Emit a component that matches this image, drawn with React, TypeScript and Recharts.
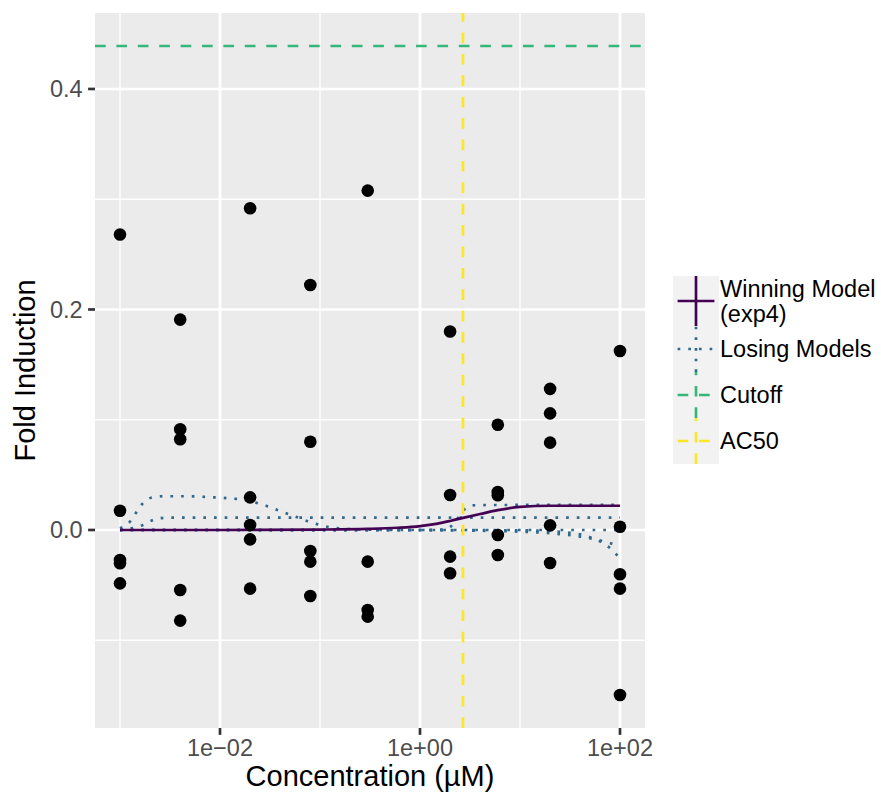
import React from 'react';
import {
  ComposedChart,
  Scatter,
  Line,
  XAxis,
  YAxis,
  ReferenceLine,
  CartesianGrid,
  Legend,
} from 'recharts';

// ---------- data ----------
const concentrations = [0.001, 0.004, 0.02, 0.08, 0.3, 2, 6, 20, 100];
const responses = [
  [0.268, 0.0175, -0.0272, -0.0302, -0.0484],
  [0.1908, 0.0913, 0.0823, -0.0544, -0.0822],
  [0.2918, 0.0296, 0.0045, -0.0085, -0.0532],
  [0.2222, 0.08, -0.019, -0.0287, -0.0599],
  [0.3078, -0.0287, -0.0726, -0.0786],
  [0.18, 0.0317, -0.0242, -0.0393],
  [0.0955, 0.0345, 0.0315, -0.0045, -0.0227],
  [0.128, 0.1058, 0.0792, 0.0042, -0.03],
  [0.1624, 0.003, -0.0402, -0.0532, -0.1497],
];

const winningX = [0.001, 0.01, 0.1, 0.3, 0.6, 1, 1.5, 2, 2.7, 4, 6, 10, 20, 40, 100];
const winningY = [0, 0, 0.0004, 0.001, 0.002, 0.0035, 0.0058, 0.0082, 0.011, 0.0145, 0.018, 0.021, 0.022, 0.022, 0.022];

const loseAX = [0.001, 0.00128, 0.00147, 0.00171, 0.00215, 0.0028, 0.0047, 0.0081, 0.0136, 0.0178, 0.0228, 0.0293, 0.0374, 0.0481, 0.0605, 0.0778, 0.1, 0.128, 0.167, 0.3, 1, 10, 100];
const loseAY = [0.0015, 0.0084, 0.0166, 0.0248, 0.0297, 0.0306, 0.0306, 0.0297, 0.0284, 0.0272, 0.0248, 0.0218, 0.0181, 0.0145, 0.0112, 0.0075, 0.0045, 0.0024, 0.0012, 0.0003, 0, 0, 0];

const loseBX = [0.001, 0.0013, 0.0017, 0.0022, 0.003, 0.01, 1, 100];
const loseBY = [0, 0.0015, 0.0045, 0.0095, 0.0112, 0.0112, 0.0112, 0.0112];

const loseCX = [0.001, 1, 10, 20, 30, 40, 50, 60, 70, 80, 90, 100];
const loseCY = [0, 0, -0.0003, -0.001, -0.0023, -0.004, -0.0065, -0.0094, -0.0128, -0.0167, -0.0212, -0.026];

const loseDX = [0.001, 1, 1.8, 2.06, 2.4, 2.86, 3.3, 4, 10, 100];
const loseDY = [0, 0, 0.0005, 0.0036, 0.011, 0.0197, 0.0222, 0.0226, 0.0227, 0.0227];

const loseEX = [0.001, 1, 10, 20, 40, 60, 80, 100];
const loseEY = [0, -0.0002, -0.0015, -0.003, -0.006, -0.009, -0.012, -0.015];

const cutoffValue = 0.439;
const ac50Value = 2.69;

const xTicks = [0.01, 1, 100];
const xTickLabels = ['1e\u221202', '1e+00', '1e+02'];
const xMinor = [0.001, 0.1, 10];
const yTicks = [0, 0.2, 0.4];
const yTickLabels = ['0.0', '0.2', '0.4'];
const yMinor = [-0.1, 0.1, 0.3];

const legendLabels = [['Winning Model', '(exp4)'], ['Losing Models'], ['Cutoff'], ['AC50']];

// ---------- styling ----------
const W = 881;
const H = 798;
const FONT = '"Liberation Sans", Arial, Helvetica, sans-serif';
const C_WIN = '#440154';
const C_LOSE = '#31688E';
const C_CUT = '#35B779';
const C_AC50 = '#FDE725';
const LW = 2.67;
const DOT = '2.67 8';
const DASH = '10.7 10.7';
const TICK_FS = 23.5;
const TITLE_FS = 29;

const toSeries = (xs: number[], ys: number[]) => xs.map((x, i) => ({ x, y: ys[i] }));

function LegendBox() {
  const keyW = 46;
  const rows = [
    { h: 50, color: C_WIN, dash: undefined as string | undefined },
    { h: 46, color: C_LOSE, dash: DOT },
    { h: 46, color: C_CUT, dash: DASH },
    { h: 46, color: C_AC50, dash: DASH },
  ];
  let top = 0;
  const total = rows.reduce((s, r) => s + r.h, 0);
  return (
    <svg width={208} height={total} style={{ display: 'block', fontFamily: FONT }}>
      <rect x={0} y={0} width={keyW} height={total} fill="#F2F2F2" />
      {rows.map((r, i) => {
        const t = top;
        top += r.h;
        const cy = t + r.h / 2;
        const labels = legendLabels[i];
        return (
          <g key={i}>
            <line x1={keyW * 0.1} x2={keyW * 0.9} y1={cy} y2={cy} stroke={r.color} strokeWidth={LW} strokeDasharray={r.dash} />
            <line x1={keyW / 2} x2={keyW / 2} y1={t + r.h} y2={t} stroke={r.color} strokeWidth={LW} strokeDasharray={r.dash} />
            {labels.map((lab, j) => (
              <text
                key={j}
                x={keyW + 1}
                y={cy + (j - (labels.length - 1) / 2) * 25}
                dominantBaseline="central"
                fontSize={TICK_FS}
                fill="#000"
              >
                {lab}
              </text>
            ))}
          </g>
        );
      })}
    </svg>
  );
}

export default function App() {
  const points = concentrations.flatMap((c, i) => responses[i].map((r) => ({ x: c, y: r })));
  const losing = [
    toSeries(loseAX, loseAY),
    toSeries(loseBX, loseBY),
    toSeries(loseCX, loseCY),
    toSeries(loseDX, loseDY),
    toSeries(loseEX, loseEY),
  ];
  return (
    <div style={{ position: 'absolute', left: 0, top: 0, width: W, height: H, background: '#FFFFFF' }}>
      <ComposedChart
        width={W}
        height={H}
        margin={{ top: 13, right: 236, bottom: 0, left: 0 }}
        style={{ fontFamily: FONT }}
      >
        <CartesianGrid
          fill="#EBEBEB"
          stroke="#FFFFFF"
          strokeWidth={1.33}
          horizontalValues={yMinor}
          verticalValues={xMinor}
        />
        <CartesianGrid
          fill="none"
          stroke="#FFFFFF"
          strokeWidth={LW}
          horizontalValues={yTicks}
          verticalValues={xTicks}
        />
        <XAxis
          dataKey="x"
          type="number"
          scale="log"
          domain={[Math.pow(10, -3.25), Math.pow(10, 2.25)]}
          allowDataOverflow
          ticks={xTicks}
          interval={0}
          tickFormatter={(v: number) => xTickLabels[xTicks.indexOf(v)] ?? ''}
          height={70}
          axisLine={false}
          tickSize={6.9}
          tickMargin={4.5}
          tickLine={{ stroke: '#333333', strokeWidth: LW }}
          tick={{ fill: '#4D4D4D', fontSize: TICK_FS }}
          label={{ value: 'Concentration (\u00B5M)', position: 'insideBottom', offset: 12.5, fill: '#000', fontSize: TITLE_FS }}
        />
        <YAxis
          dataKey="y"
          type="number"
          domain={[-0.1796, 0.4689]}
          allowDataOverflow
          ticks={yTicks}
          interval={0}
          tickFormatter={(v: number) => yTickLabels[yTicks.indexOf(v)] ?? ''}
          width={95}
          axisLine={false}
          tickSize={6.9}
          tickMargin={5.5}
          tickLine={{ stroke: '#333333', strokeWidth: LW }}
          tick={{ fill: '#4D4D4D', fontSize: TICK_FS }}
          label={{
            value: 'Fold Induction',
            position: 'insideLeft',
            angle: -90,
            offset: 25,
            fill: '#000',
            fontSize: TITLE_FS,
            style: { textAnchor: 'middle' },
          }}
        />
        {losing.map((d, i) => (
          <Line
            key={'lose' + i}
            data={d}
            dataKey="y"
            type="monotone"
            stroke={C_LOSE}
            strokeWidth={LW}
            strokeDasharray={DOT}
            dot={false}
            activeDot={false}
            isAnimationActive={false}
          />
        ))}
        <Line
          data={toSeries(winningX, winningY)}
          dataKey="y"
          type="monotone"
          stroke={C_WIN}
          strokeWidth={LW}
          dot={false}
          activeDot={false}
          isAnimationActive={false}
        />
        <Scatter
          data={points}
          dataKey="y"
          fill="#000"
          isAnimationActive={false}
          shape={(p: any) => <circle cx={p.cx} cy={p.cy} r={6.3} fill="#000" />}
        />
        <ReferenceLine y={cutoffValue} stroke={C_CUT} strokeWidth={LW} strokeDasharray={DASH} />
        <ReferenceLine x={ac50Value} stroke={C_AC50} strokeWidth={LW} strokeDasharray={DASH} />
        <Legend
          layout="vertical"
          align="center"
          verticalAlign="middle"
          content={() => <LegendBox />}
          wrapperStyle={{ position: 'absolute', left: 673, top: 276, width: 208, height: 188 }}
        />
      </ComposedChart>
    </div>
  );
}
